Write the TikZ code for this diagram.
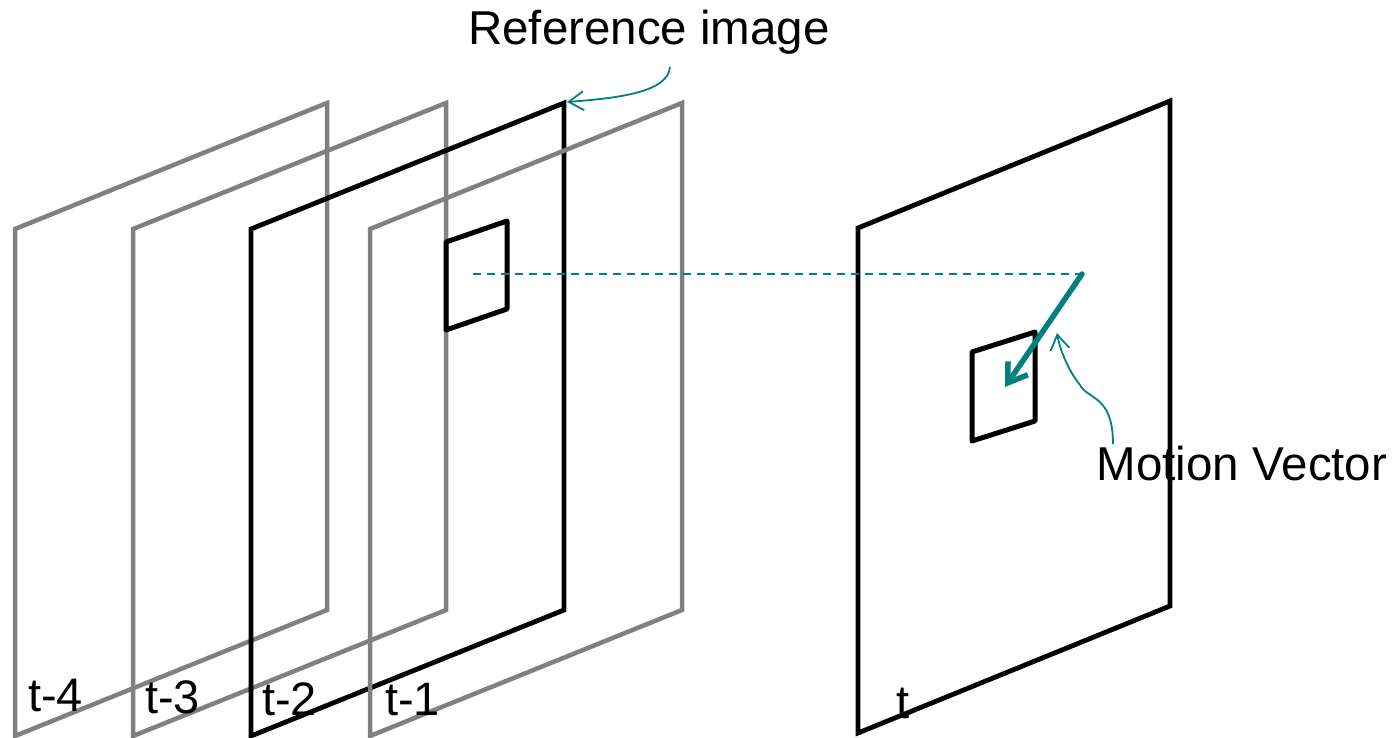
\documentclass[tikz,border=0pt]{standalone}
\usepackage{fontspec}
\setmainfont{Liberation Sans}
\usetikzlibrary{arrows.meta}
\definecolor{teal0}{RGB}{0,128,128}
\definecolor{grayframe}{RGB}{128,128,128}
\tikzset{
  grayfr/.style={draw=grayframe, line width=4.5pt},
  blackfr/.style={draw=black, line width=4.8pt},
  block/.style={draw=black, line width=5pt, line join=round},
  lbl/.style={inner sep=0pt, anchor=base west, font=\fontsize{47}{56}\selectfont},
  big/.style={inner sep=0pt, anchor=base, font=\fontsize{47.5}{57}\selectfont},
  callout/.style={draw=teal0, line width=1.8pt, -{Straight Barb[length=15pt,width=19pt]}},
  mv/.style={draw=teal0, line width=5.5pt, line cap=round, line join=round, -{Straight Barb[length=18pt,width=24pt]}},
  guide/.style={draw=teal0, line width=2pt, dash pattern=on 8pt off 6pt}
}
\begin{document}
\begin{tikzpicture}[x=1pt,y=-1pt]
\useasboundingbox (0,0) rectangle (1395,738);
% frames
\draw[grayfr] (15,229) -- (327,103) -- (327,610) -- (15,736) -- cycle;
\draw[grayfr] (133,229) -- (446,103) -- (446,610) -- (133,736) -- cycle;
\draw[blackfr] (251,229) -- (564,103) -- (564,610) -- (251,736) -- cycle;
\draw[grayfr] (370,229) -- (682,103) -- (682,610) -- (370,736) -- cycle;
\draw[blackfr] (858,228) -- (1170,101) -- (1170,606) -- (858,733) -- cycle;
% blocks
\draw[block] (446,242) -- (507,221) -- (507,309) -- (446,330) -- cycle;
\draw[block] (972,352) -- (1035,332) -- (1035,421) -- (972,441) -- cycle;
% labels
\node[lbl] (l4) at (28,711) {t-4};
\node[lbl] (l3) at (145,713) {t-3};
\node[lbl] (l2) at (262,715) {t-2};
\node[lbl] (l1) at (385,715) {t-1};
\node[lbl] (l0) at (896,718) {t};
\node[big] (ref) at (649,45) {Reference image};
\node[big] (mvl) at (1242,480) {Motion Vector};
% coordinates
\coordinate (refcorner) at (567,102);
\coordinate (refstart) at (670,67);
\coordinate (gstart) at (473,274);
\coordinate (mvstart) at (1082,274);
\coordinate (mvend) at (1005,387);
\coordinate (mvcstart) at (1113,444);
\coordinate (mvctip) at (1057,333);
% connectors
\draw[guide] (gstart) -- (mvstart);
\draw[mv] (mvstart) -- (mvend);
\draw[callout] (refstart) .. controls (668,92) and (620,98) .. (refcorner);
\draw[callout] (mvcstart) .. controls (1113,395) and (1088,400) .. (1080,385) .. controls (1068,370) and (1060,350) .. (mvctip);
\end{tikzpicture}
\end{document}
